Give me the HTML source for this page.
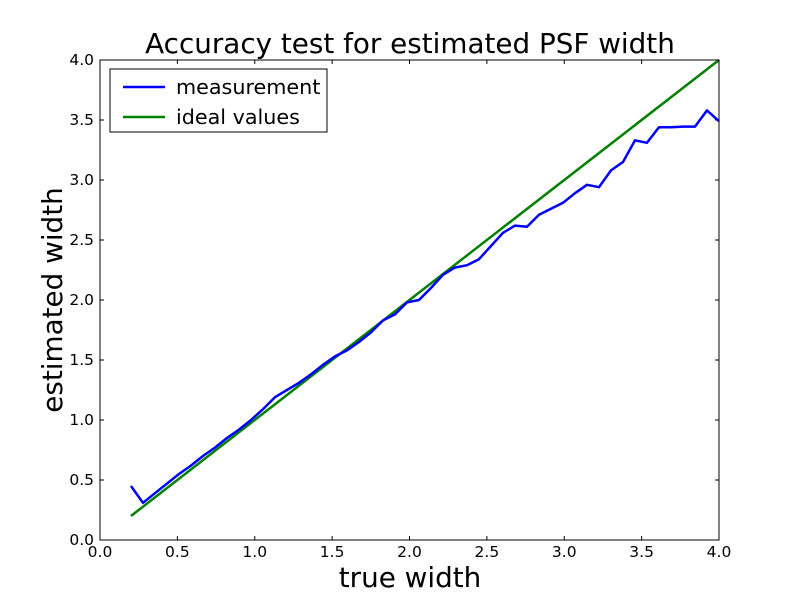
<!DOCTYPE html>
<html><head><meta charset="utf-8"><style>
body{margin:0;background:#fff;}
svg{font-family:"DejaVu Sans","Liberation Sans",sans-serif;}
</style></head><body>
<svg id="chart" width="800" height="600">
<rect width="800" height="600" fill="#fff"/>
<text x="410" y="53" font-size="27.8" text-anchor="middle">Accuracy test for estimated PSF width</text>
<g id="ticks"></g>
<g id="lines"></g>
<rect x="100" y="60" width="619" height="480" fill="none" stroke="#000" stroke-width="1"/>
<text x="410" y="587" font-size="27.8" text-anchor="middle">true width</text>
<text transform="translate(62,300) rotate(-90)" font-size="27.8" text-anchor="middle">estimated width</text>
<g>
<rect x="110" y="69" width="217" height="63" fill="#fff" stroke="#000"/>
<line x1="123" y1="87" x2="165" y2="87" stroke="#0000ff" stroke-width="2.5"/>
<text x="176" y="94" font-size="20.7">measurement</text>
<line x1="123" y1="117" x2="165" y2="117" stroke="#008000" stroke-width="2.5"/>
<text x="176" y="124" font-size="20.7">ideal values</text>
</g>
</svg>
<script>
const xTicks=[0,0.5,1,1.5,2,2.5,3,3.5,4];
const yTicks=[0,0.5,1,1.5,2,2.5,3,3.5,4];
const xStart=0.2, xEnd=4.0;
const measured=[0.45,0.31,0.39,0.47,0.55,0.62,0.70,0.77,0.85,0.92,1.00,
1.09,1.19,1.25,1.31,1.38,1.46,1.53,1.58,1.65,1.73,1.83,1.88,1.98,2.00,2.10,2.21,
2.27,2.29,2.34,2.45,2.56,2.62,2.61,2.71,2.76,2.81,2.89,2.96,2.94,3.08,3.15,3.33,3.31,3.44,3.44,3.445,3.445,3.58,3.49];
const ideal=[0.2,4.0];
const X=v=>100+v*619/4, Y=v=>540-v*120;
const NS="http://www.w3.org/2000/svg";
const tg=document.getElementById('ticks'), lg=document.getElementById('lines');
function mk(tag,attrs,parent){const e=document.createElementNS(NS,tag);for(const k in attrs)e.setAttribute(k,attrs[k]);parent.appendChild(e);return e;}
xTicks.forEach(v=>{
 const l=mk('line',{x1:X(v),x2:X(v),y1:540,y2:536,stroke:'#000'},tg);
 
 
 const l2=mk('line',{x1:X(v),x2:X(v),y1:60,y2:64,stroke:'#000'},tg);
 
 
 const t=mk('text',{x:X(v),y:557,'font-size':15.5,'text-anchor':'middle'},tg);
 t.textContent=v.toFixed(1);
 
 
});
yTicks.forEach(v=>{
 const l=mk('line',{x1:100,x2:104,y1:Y(v),y2:Y(v),stroke:'#000'},tg);
 
 
 const l2=mk('line',{x1:715,x2:719,y1:Y(v),y2:Y(v),stroke:'#000'},tg);
 
 
 const t=mk('text',{x:94,y:Y(v)+5,'font-size':15.5,'text-anchor':'end'},tg);
 t.textContent=v.toFixed(1);
 
 
});
const n=measured.length;
const pts=measured.map((v,i)=>X(xStart+i*(xEnd-xStart)/(n-1))+','+Y(v)).join(' ');
const ip=ideal.map(v=>X(v)+','+Y(v)).join(' ');
const g=mk('polyline',{points:ip,fill:'none',stroke:'#008000','stroke-width':2.5},lg);


const m=mk('polyline',{points:pts,fill:'none',stroke:'#0000ff','stroke-width':2.5,'stroke-linejoin':'round'},lg);


</script>
</body></html>
